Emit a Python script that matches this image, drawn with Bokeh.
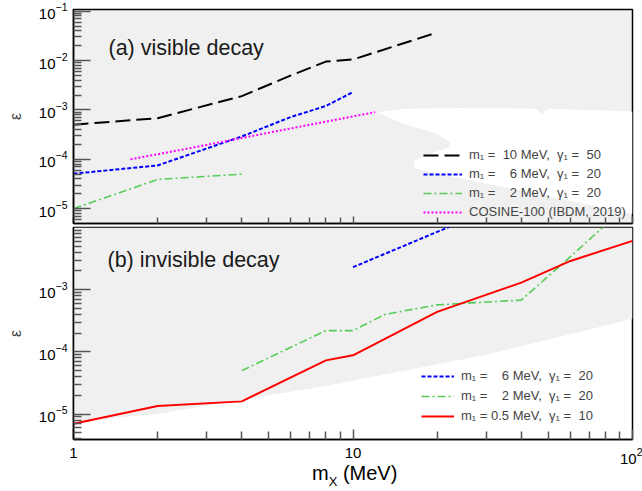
from bokeh.plotting import figure
from bokeh.layouts import column
from bokeh.models import Range1d, FixedTicker, Legend, LegendItem, Label, Div
from bokeh.embed import file_html
from bokeh.resources import INLINE

# ---------------- data ----------------
# x axis: dark-matter mass m_X (MeV)
x_major_ticks = [1, 10, 100]
x_tick_labels = {1: "1", 10: "10"}

# (a) visible decay
vis_m10_x = [1, 2, 4, 6, 8, 10, 20]
vis_m10_y = [5.0e-4, 6.8e-4, 1.9e-3, 5.0e-3, 9.5e-3, 1.05e-2, 3.7e-2]
vis_m6_x = [1, 2, 4, 6, 8, 10]
vis_m6_y = [5.1e-5, 7.5e-5, 2.9e-4, 7.2e-4, 1.2e-3, 2.3e-3]
vis_m2_x = [1, 2, 4]
vis_m2_y = [1.0e-5, 3.9e-5, 5.0e-5]
cosine_x = [1.6, 2.5, 4, 7, 12]
cosine_y = [1.0e-4, 1.6e-4, 2.7e-4, 5.0e-4, 9.0e-4]
# allowed (white) window inside the shaded excluded region of panel (a)
vis_open_x = [12.2, 15.2, 28.6, 45, 47.3, 50.2, 100, 100, 16.7, 16.5, 19.4, 22.0, 22.3, 20.0, 15.2]
vis_open_y = [9.0e-4, 1.06e-3, 1.11e-3, 1.06e-3, 8.4e-4, 1.06e-3, 9.3e-4, 7.8e-6,
              6.4e-5, 9.3e-5, 1.35e-4, 1.74e-4, 2.2e-4, 3.3e-4, 5.2e-4]

# (b) invisible decay
inv_m6_x = [10, 20, 30]
inv_m6_y = [2.3e-3, 8.5e-3, 1.8e-2]
inv_m2_x = [4, 8, 10, 13, 20, 40, 60, 80]
inv_m2_y = [5.0e-5, 2.2e-4, 2.2e-4, 4.0e-4, 5.7e-4, 6.8e-4, 3.4e-3, 1.1e-2]
inv_m05_x = [1, 2, 4, 8, 10, 20, 40, 60, 100]
inv_m05_y = [7.0e-6, 1.35e-5, 1.6e-5, 7.3e-5, 8.8e-5, 4.4e-4, 1.3e-3, 2.9e-3, 6.1e-3]
# lower edge of the shaded excluded region of panel (b)
inv_excl_x = [1, 2, 4, 7.7, 30, 100]
inv_excl_y = [7.6e-6, 1.0e-5, 1.7e-5, 2.75e-5, 9.0e-5, 3.4e-4]

vis_labels = ["m\u2081 =\u00a0 10 MeV,\u00a0 \u03b3\u2081 =\u00a0 50",
              "m\u2081 =\u00a0 \u20076 MeV,\u00a0 \u03b3\u2081 =\u00a0 20",
              "m\u2081 =\u00a0 \u20072 MeV,\u00a0 \u03b3\u2081 =\u00a0 20",
              "COSINE-100 (IBDM, 2019)"]
inv_labels = ["m\u2081 =\u00a0\u2007\u20086 MeV,\u00a0 \u03b3\u2081 =\u00a0 20",
              "m\u2081 =\u00a0\u2007\u20082 MeV,\u00a0 \u03b3\u2081 =\u00a0 20",
              "m\u2081 = 0.5 MeV,\u00a0 \u03b3\u2081 =\u00a0 10"]

# ---------------- style ----------------
FONT = "Liberation Sans"
GRAY = "#f0f0f0"
x_minor = [k * 10 ** e for e in (0, 1) for k in range(2, 10)]


def y_minor(lo, hi):
    return [k * 10.0 ** e for e in range(lo, hi) for k in range(2, 10)]


def style(p, ymajor, yminor, show_xlabels, xtick_major, xtick_minor):
    p.outline_line_color = "black"
    p.outline_line_width = 1.5
    p.xgrid.visible = False
    p.ygrid.visible = False
    for ax in (p.xaxis[0], p.yaxis[0]):
        ax.axis_line_color = "black"
        ax.axis_line_width = 1.5
        ax.major_tick_out = 0
        ax.minor_tick_out = 0
        ax.major_tick_line_color = "#555555"
        ax.minor_tick_line_color = "#555555"
        ax.major_tick_line_width = 1.5
        ax.minor_tick_line_width = 1.5
        ax.major_label_text_font = FONT
        ax.major_label_text_font_size = "15px"
        ax.major_label_text_color = "black"
    ya = p.yaxis[0]
    ya.ticker = FixedTicker(ticks=ymajor, minor_ticks=yminor)
    ya.major_tick_in = 17
    ya.minor_tick_in = 8
    ya.major_label_standoff = 6
    ya.axis_label = "\u03b5"
    ya.axis_label_text_font = FONT
    ya.axis_label_text_font_style = "normal"
    ya.axis_label_text_font_size = "16px"
    ya.axis_label_standoff = 12
    xa = p.xaxis[0]
    xa.ticker = FixedTicker(ticks=x_major_ticks, minor_ticks=x_minor)
    xa.major_tick_in = xtick_major
    xa.minor_tick_in = xtick_minor
    if show_xlabels:
        xa.major_label_overrides = x_tick_labels
        xa.major_label_standoff = 8
    else:
        xa.major_label_text_font_size = "1px"
        xa.major_label_text_alpha = 0
        xa.major_label_standoff = 0


# ---------------- panel (a) ----------------
p1 = figure(width=642, height=225, x_axis_type="log", y_axis_type="log",
            x_range=Range1d(1, 100), y_range=Range1d(5e-6, 0.108),
            output_backend="svg", toolbar_location=None,
            min_border_left=73, min_border_right=10, min_border_top=9, min_border_bottom=2)
p1.background_fill_color = GRAY
p1.border_fill_color = "white"
style(p1, [1e-5, 1e-4, 1e-3, 1e-2, 1e-1], y_minor(-6, -1), False, 7, 6)

p1.patch(vis_open_x, vis_open_y, fill_color="white", line_color=None)
r_a1 = p1.line(vis_m10_x, vis_m10_y, line_color="black", line_width=2, line_dash="15 6")
r_a2 = p1.line(vis_m6_x, vis_m6_y, line_color="#0000ff", line_width=2, line_dash="4 2")
r_a3 = p1.line(vis_m2_x, vis_m2_y, line_color="#55cc55", line_width=1.6, line_dash="8 3 2 3")
r_a4 = p1.line(cosine_x, cosine_y, line_color="#ff00ff", line_width=2, line_dash="2 2")

leg1 = Legend(items=[LegendItem(label=l, renderers=[r]) for l, r in
                     zip(vis_labels, [r_a1, r_a2, r_a3, r_a4])],
              location=(350, 4), padding=0, margin=0, spacing=4,
              glyph_width=39, glyph_height=14, label_height=14, label_standoff=7,
              label_text_font=FONT, label_text_font_size="13px",
              background_fill_alpha=0, border_line_alpha=0)
p1.add_layout(leg1)
p1.add_layout(Label(x=35, y=176, x_units="screen", y_units="screen",
                    text="(a) visible decay", text_font=FONT, text_font_size="21.5px",
                    text_baseline="middle", text_color="#1a1a1a"))

# ---------------- panel (b) ----------------
p2 = figure(width=642, height=244, x_axis_type="log", y_axis_type="log",
            x_range=p1.x_range, y_range=Range1d(3.9e-6, 1e-2),
            output_backend="svg", toolbar_location=None,
            min_border_left=73, min_border_right=10, min_border_top=2, min_border_bottom=30)
p2.background_fill_color = "white"
p2.border_fill_color = "white"
style(p2, [1e-5, 1e-4, 1e-3], y_minor(-6, -2), True, 10, 8)

p2.varea(x=inv_excl_x, y1=inv_excl_y, y2=[1e-2] * len(inv_excl_x), fill_color=GRAY)
r_b1 = p2.line(inv_m6_x, inv_m6_y, line_color="#0000ff", line_width=2, line_dash="4 2")
r_b2 = p2.line(inv_m2_x, inv_m2_y, line_color="#55cc55", line_width=1.6, line_dash="8 3 2 3")
r_b3 = p2.line(inv_m05_x, inv_m05_y, line_color="#ff0000", line_width=2)

leg2 = Legend(items=[LegendItem(label=l, renderers=[r]) for l, r in
                     zip(inv_labels, [r_b1, r_b2, r_b3])],
              location=(348, 16), padding=0, margin=0, spacing=5,
              glyph_width=33, glyph_height=14, label_height=14, label_standoff=7,
              label_text_font=FONT, label_text_font_size="13px",
              background_fill_alpha=0, border_line_alpha=0)
p2.add_layout(leg2)
p2.add_layout(Label(x=34, y=180, x_units="screen", y_units="screen",
                    text="(b) invisible decay", text_font=FONT, text_font_size="21.5px",
                    text_baseline="middle", text_color="#1a1a1a"))

# x-axis title  m_X (MeV)
xtitle = Div(
    text=('<div style="position:relative; left:307px; top:-11px; white-space:nowrap; '
          'font-family:\'Liberation Sans\'; font-size:20px; line-height:20px; color:#000;">'
          'm<span style="font-size:13px; position:relative; top:6px;">X</span>'
          '&nbsp;(MeV)</div>'),
    width=642, height=22)

layout = column(p1, p2, xtitle, spacing=0)
open("out.html", "w").write(file_html(layout, INLINE))
